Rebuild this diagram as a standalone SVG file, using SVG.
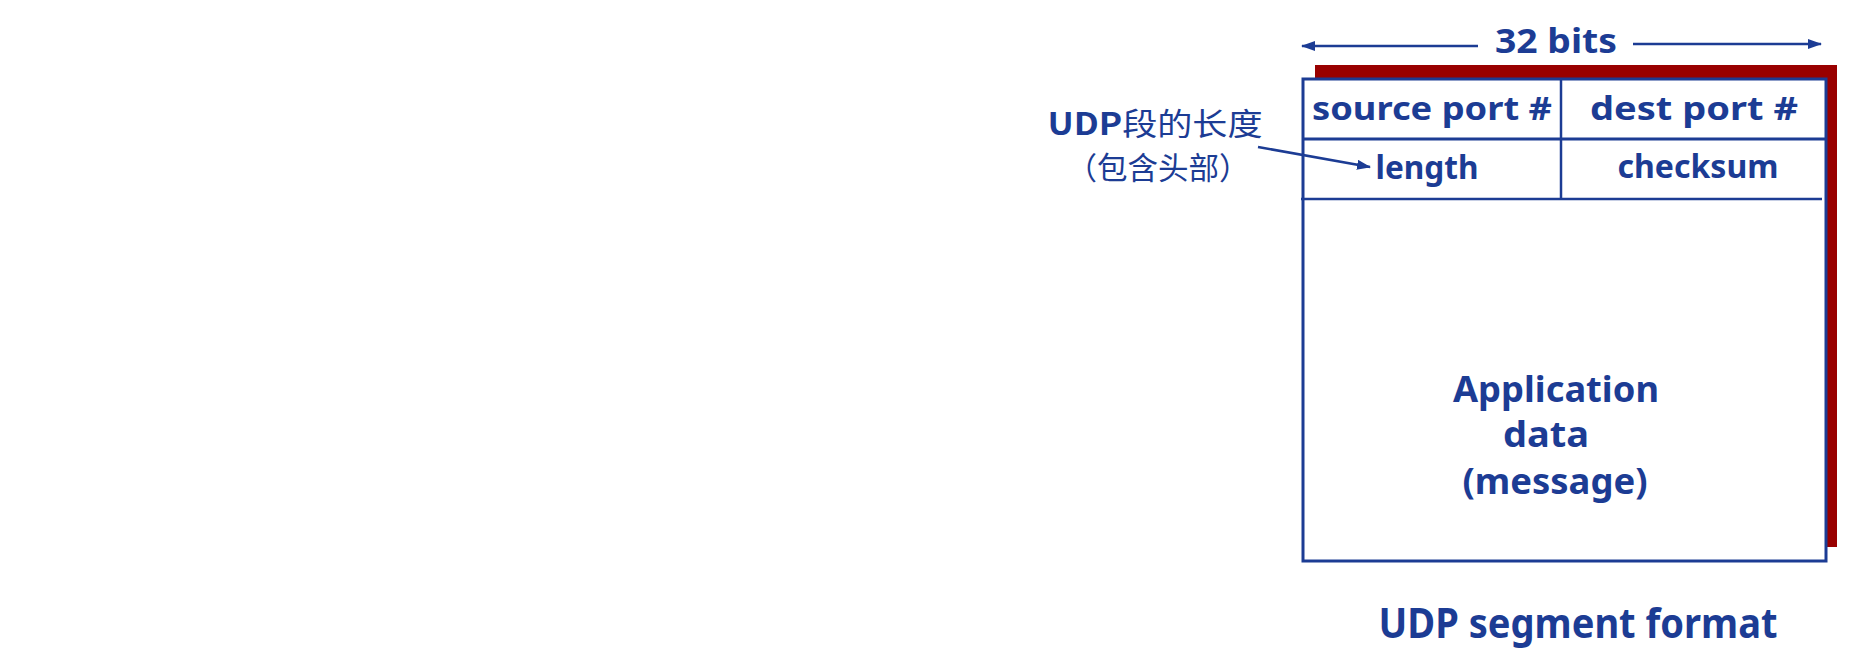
<svg xmlns="http://www.w3.org/2000/svg" width="1859" height="649" viewBox="0 0 1859 649">
<style>
.t{font-family:"Comic Sans MS","Noto Sans","DejaVu Sans",sans-serif;font-weight:bold;fill:#1c3c94;text-anchor:middle}
.cjk{font-family:"Noto Sans CJK SC",sans-serif;fill:#1c3c94;text-anchor:middle}
.ln{stroke:#1c3c94;fill:none}
</style>
<defs>
<marker id="ah" viewBox="0 0 14 10" refX="13" refY="5" markerWidth="14" markerHeight="10" markerUnits="userSpaceOnUse" orient="auto">
<path d="M0,0 L14,5 L0,10 Z" fill="#1c3c94"/>
</marker>
</defs>
<rect width="1859" height="649" fill="#ffffff"/>
<g id="segment">
<rect x="1315" y="65" width="522" height="482" fill="#990000"/>
<rect x="1303" y="79" width="523" height="482" fill="#ffffff" stroke="#1c3c94" stroke-width="3"/>
<line class="ln" x1="1303" y1="139" x2="1826" y2="139" stroke-width="3"/>
<line class="ln" x1="1301" y1="199" x2="1822" y2="199" stroke-width="2.5"/>
<line class="ln" x1="1561" y1="79" x2="1561" y2="199" stroke-width="2.5"/>
</g>
<g id="source-port"><text class="t" x="1432" y="120" font-size="33" textLength="240" lengthAdjust="spacingAndGlyphs">source port #</text></g>
<g id="dest-port"><text class="t" x="1694" y="120" font-size="33" textLength="208" lengthAdjust="spacingAndGlyphs">dest port #</text></g>
<g id="length"><text class="t" x="1427" y="179" font-size="33" textLength="103" lengthAdjust="spacingAndGlyphs">length</text></g>
<g id="checksum"><text class="t" x="1698" y="178" font-size="33" textLength="161" lengthAdjust="spacingAndGlyphs">checksum</text></g>
<g id="app-data">
<text class="t" x="1556" y="402" font-size="36" textLength="206" lengthAdjust="spacingAndGlyphs">Application</text>
<text class="t" x="1546" y="447" font-size="36" textLength="86" lengthAdjust="spacingAndGlyphs">data</text>
<text class="t" x="1555" y="494" font-size="36" textLength="185" lengthAdjust="spacingAndGlyphs">(message)</text>
</g>
<g id="bits-label"><text class="t" x="1556" y="53" font-size="34" textLength="122" lengthAdjust="spacingAndGlyphs">32 bits</text></g>
<g id="length-note">
<text class="cjk" x="1155" y="135" font-size="31" textLength="215" lengthAdjust="spacingAndGlyphs"><tspan font-weight="bold">UDP</tspan>段的长度</text>
<text class="cjk" x="1158" y="179" font-size="31" textLength="183" lengthAdjust="spacingAndGlyphs">（包含头部）</text>
</g>
<g id="title"><text class="t" x="1578" y="638" font-size="42" textLength="399" lengthAdjust="spacingAndGlyphs">UDP segment format</text></g>
<g id="connectors">
<line class="ln" x1="1478" y1="46" x2="1302" y2="46" stroke-width="2.5" marker-end="url(#ah)"/>
<line class="ln" x1="1633" y1="44" x2="1821" y2="44" stroke-width="2.5" marker-end="url(#ah)"/>
<line class="ln" x1="1258" y1="147" x2="1370" y2="167" stroke-width="2.5" marker-end="url(#ah)"/>
</g>
</svg>
